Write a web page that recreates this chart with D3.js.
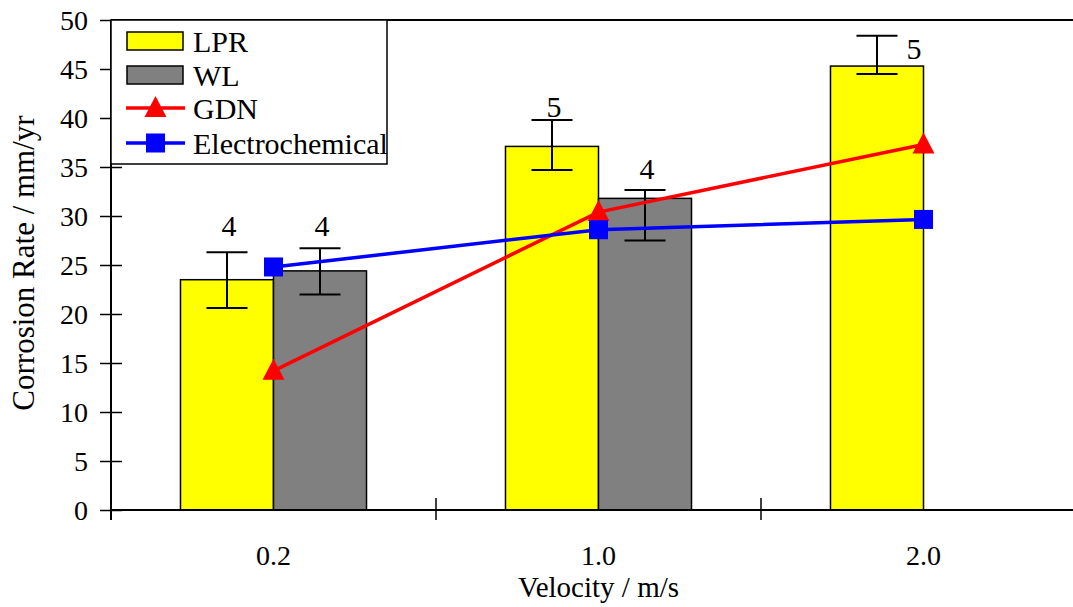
<!DOCTYPE html>
<html>
<head>
<meta charset="utf-8">
<script src="https://cdn.jsdelivr.net/npm/d3@7"></script>
<style>
  html, body { margin: 0; padding: 0; background: #fff; }
  svg { display: block; }
</style>
</head>
<body>
<svg id="chart" width="1073" height="607" font-family="Liberation Serif"></svg>
<script>
// ---- data ----
const categories = ["0.2", "1.0", "2.0"];
const lprMean    = [23.5, 37.1, 45.3];
const lprErrHigh = [26.3, 39.8, 48.4];
const lprErrLow  = [20.6, 34.7, 44.5];
const wlMean     = [24.4, 31.8, null];
const wlErrHigh  = [26.7, 32.65, null];
const wlErrLow   = [22.0, 27.5, null];
const gdnValues  = [14.2, 30.4, 37.3];
const elecValues = [24.8, 28.6, 29.65];
const lprN       = [4, 5, 5];
const wlN        = [4, 4, null];
const lprNAt     = [28.0, 40.1, 46.0];
const wlNAt      = [28.0, 33.8, null];
const lprNSide   = ["top", "top", "right"];
const yTicks     = [0, 5, 10, 15, 20, 25, 30, 35, 40, 45, 50];
const seriesNames = ["LPR", "WL", "GDN", "Electrochemical"];

(function () {
const FONT = "\"Liberation Serif\"";
const svg = d3.select("#chart");
const pLeft = 111, pTop = 20, pBottom = 510, pRight = 1086;

const x = d3.scaleBand().domain(categories).range([pLeft, pRight]).paddingInner(0).paddingOuter(0);
const xs = d3.scaleBand().domain(["LPR", "WL"]).range([0, x.bandwidth()]).paddingInner(0).paddingOuter(0.747);
const y = d3.scaleLinear().domain([0, 50]).range([pBottom, pTop]);

const colors = { LPR: "#ffff00", WL: "#808080", GDN: "#ff0000", Electrochemical: "#0000ff" };

// frame top line
svg.append("line").attr("x1", pLeft).attr("x2", 1073).attr("y1", pTop).attr("y2", pTop)
  .attr("stroke", "#000").attr("stroke-width", 2);

// bars
const barData = [];
categories.forEach((c, i) => {
  barData.push({ c, s: "LPR", v: lprMean[i], hi: lprErrHigh[i], lo: lprErrLow[i], n: lprN[i], at: lprNAt[i], side: lprNSide[i] });
  if (wlMean[i] != null) barData.push({ c, s: "WL", v: wlMean[i], hi: wlErrHigh[i], lo: wlErrLow[i], n: wlN[i], at: wlNAt[i], side: "top" });
});

svg.append("g").selectAll("rect").data(barData).join("rect")
  .attr("x", d => x(d.c) + xs(d.s))
  .attr("width", xs.bandwidth())
  .attr("y", d => y(d.v))
  .attr("height", d => y(0) - y(d.v))
  .attr("fill", d => colors[d.s])
  .attr("stroke", "#000").attr("stroke-width", 1.5);

// error bars
const gErr = svg.append("g").attr("stroke", "#000").attr("stroke-width", 2);
barData.forEach(d => {
  const cx = x(d.c) + xs(d.s) + xs.bandwidth() / 2;
  gErr.append("line").attr("x1", cx).attr("x2", cx).attr("y1", y(d.hi)).attr("y2", y(d.lo));
  gErr.append("line").attr("x1", cx - 20.5).attr("x2", cx + 20.5).attr("y1", y(d.hi)).attr("y2", y(d.hi));
  gErr.append("line").attr("x1", cx - 20.5).attr("x2", cx + 20.5).attr("y1", y(d.lo)).attr("y2", y(d.lo));
});

// n labels
svg.append("g").selectAll("text").data(barData).join("text")
  .attr("x", d => x(d.c) + xs(d.s) + xs.bandwidth() / 2 + (d.side === "right" ? 37 : 2))
  .attr("y", d => y(d.at))
  .attr("text-anchor", "middle")
  .attr("font-family", FONT).attr("font-size", 30)
  .text(d => d.n);

// axes
svg.append("line").attr("x1", pLeft).attr("x2", 1073).attr("y1", pBottom).attr("y2", pBottom)
  .attr("stroke", "#000").attr("stroke-width", 2);
svg.append("line").attr("x1", pLeft).attr("x2", pLeft).attr("y1", pTop).attr("y2", 520)
  .attr("stroke", "#000").attr("stroke-width", 2);

const yAxis = svg.append("g").attr("transform", `translate(${pLeft},0)`)
  .call(d3.axisLeft(y).tickValues(yTicks).tickSize(11).tickPadding(12).tickFormat(d3.format("d")));
yAxis.attr("font-family", FONT).attr("font-size", 28);
yAxis.select(".domain").remove();
yAxis.selectAll(".tick line").attr("x1", 11).attr("stroke", "#000").attr("stroke-width", 1.5);
yAxis.selectAll(".tick text").attr("dy", "0.34em").attr("fill", "#000");

// x ticks at band boundaries
const gx = svg.append("g");
gx.selectAll("line").data(categories).join("line")
  .attr("x1", d => x(d)).attr("x2", d => x(d))
  .attr("y1", 498).attr("y2", 520)
  .attr("stroke", "#000").attr("stroke-width", 1.5);
gx.selectAll("text").data(categories).join("text")
  .attr("x", d => x(d) + x.bandwidth() / 2)
  .attr("y", 565)
  .attr("text-anchor", "middle")
  .attr("font-family", FONT).attr("font-size", 28)
  .text(d => d);

// lines
const lineGen = d3.line().x((d, i) => x(categories[i]) + x.bandwidth() / 2).y(d => y(d));
svg.append("path").datum(gdnValues).attr("d", lineGen).attr("fill", "none")
  .attr("stroke", colors.GDN).attr("stroke-width", 3.5);
svg.append("path").datum(elecValues).attr("d", lineGen).attr("fill", "none")
  .attr("stroke", colors.Electrochemical).attr("stroke-width", 3.5);

const triPath = (cx, cy) => `M${cx},${cy - 12}L${cx + 11},${cy + 9}L${cx - 11},${cy + 9}Z`;
svg.append("g").selectAll("path").data(gdnValues).join("path")
  .attr("d", (d, i) => triPath(x(categories[i]) + x.bandwidth() / 2, y(d)))
  .attr("fill", colors.GDN);
svg.append("g").selectAll("rect").data(elecValues).join("rect")
  .attr("x", (d, i) => x(categories[i]) + x.bandwidth() / 2 - 9.5)
  .attr("y", d => y(d) - 9.5)
  .attr("width", 19).attr("height", 19)
  .attr("fill", colors.Electrochemical);

// legend
const lg = svg.append("g");
lg.append("rect").attr("x", pLeft).attr("y", pTop).attr("width", 276).attr("height", 144)
  .attr("fill", "#fff").attr("stroke", "#000").attr("stroke-width", 1.5);
const rowY = [41, 75, 108, 143];
seriesNames.forEach((s, i) => {
  const cy = rowY[i];
  if (i < 2) {
    lg.append("rect").attr("x", 127).attr("y", cy - 9).attr("width", 56).attr("height", 18)
      .attr("fill", colors[s]).attr("stroke", "#000").attr("stroke-width", 1.5);
  } else {
    lg.append("line").attr("x1", 126).attr("x2", 185).attr("y1", cy).attr("y2", cy)
      .attr("stroke", colors[s]).attr("stroke-width", 3.5);
    if (s === "GDN") lg.append("path").attr("d", triPath(155.5, cy)).attr("fill", colors[s]);
    else lg.append("rect").attr("x", 146).attr("y", cy - 9.5).attr("width", 19).attr("height", 19).attr("fill", colors[s]);
  }
  lg.append("text").attr("x", 193).attr("y", cy + 11)
    .attr("font-family", FONT).attr("font-size", 30).text(s);
});

// axis titles
svg.append("text").attr("x", 598.5).attr("y", 597).attr("text-anchor", "middle")
  .attr("font-family", FONT).attr("font-size", 29).text("Velocity / m/s");
svg.append("text").attr("transform", "translate(34,263) rotate(-90)").attr("text-anchor", "middle")
  .attr("font-family", FONT).attr("font-size", 31).text("Corrosion Rate / mm/yr");
})();
</script>
</body>
</html>
